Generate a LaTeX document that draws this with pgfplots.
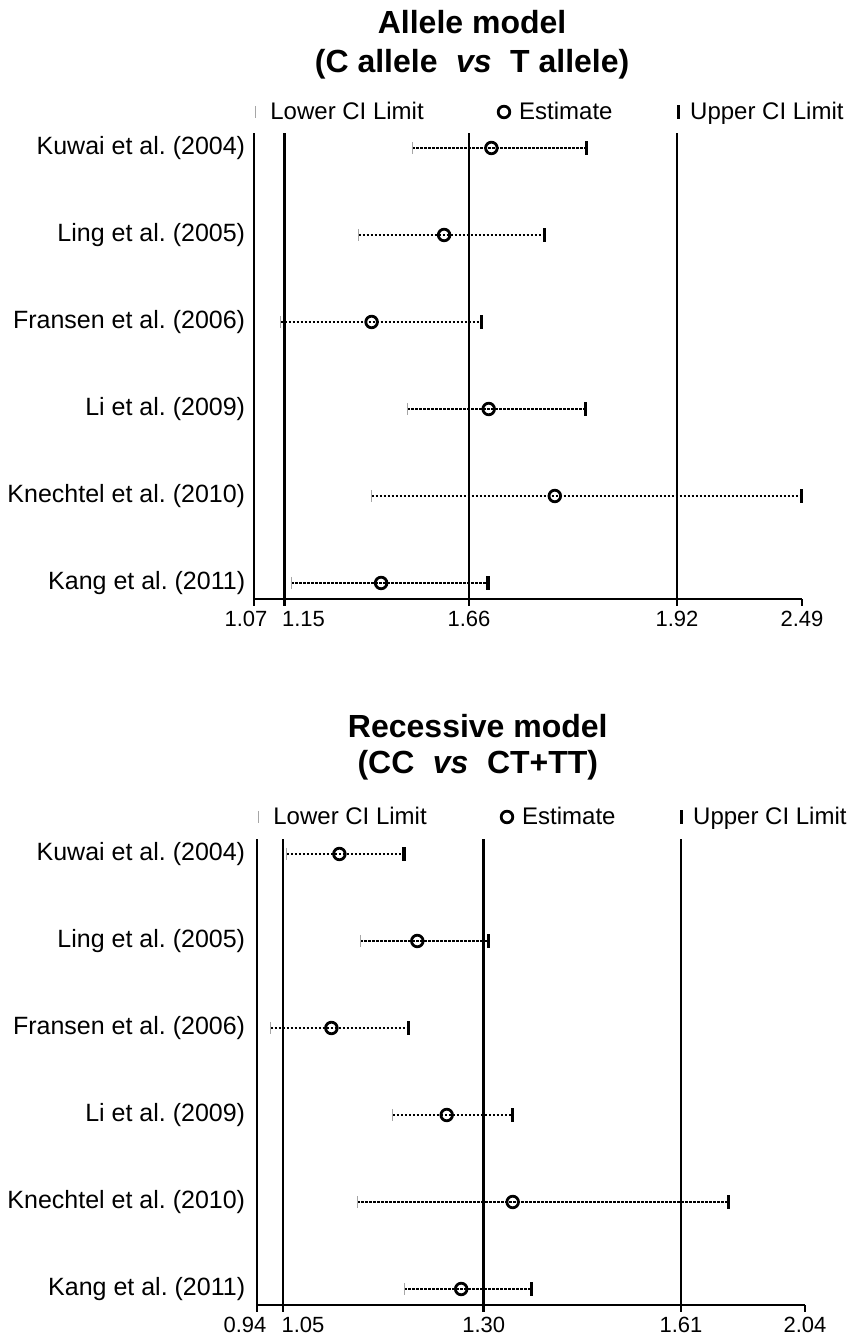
\documentclass[border=0pt]{standalone}
\usepackage{pgfplots}
\pgfplotsset{compat=1.18}
\usepackage{pgfplotstable}
\usepackage{fontspec}
\setmainfont{Liberation Sans}

\pgfplotstableread{
y   lo     est    hi
451 158.4  237.4  332.8
364 104.6  190.1  290.8
277 26.7   117.6  227.1
190 153.4  234.7  331.7
103 117.6  300.8  547.7
16  37.4   127.1  234.0
}\tabA

\pgfplotstableread{
y   lo     est    hi
451 29.8   82.4   146.9
364 103.4  160.3  231.3
277 13.7   74.4   151.1
190 135.9  189.7  255.7
103 100.4  255.7  471.8
16  147.3  204.2  274.8
}\tabB

\pgfplotsset{
  forest/.style={
    scale only axis, width=274pt, height=233pt,
    xmin=0, xmax=548, ymin=0, ymax=466, clip=false,
    axis x line=bottom, axis y line=left,
    axis line style={-, line width=1.3pt, black},
    every outer x axis line/.append style={-},
    every outer y axis line/.append style={-},
    xtick align=outside,
    major tick length=3.5pt,
    xtick style={line width=1.3pt, black},
    ytick style={draw=none},
    ytick={16,103,190,277,364,451},
    yticklabels={Kang et al. (2011), Knechtel et al. (2010), Li et al. (2009), Fransen et al. (2006), Ling et al. (2005), Kuwai et al. (2004)},
    yticklabel style={font=\fontsize{12.5}{14}\selectfont, anchor=east, inner sep=0pt},
    xticklabel style={font=\fontsize{11}{13}\selectfont, anchor=north, inner sep=0pt, yshift=-2.5pt},
    legend columns=3,
    legend cell align=left,
    legend style={draw=none, fill=none, inner sep=0pt, column sep=0pt, font=\fontsize{12}{14}\selectfont, nodes={inner sep=0pt}},
    legend image code/.code={\draw[##1] plot coordinates {(0pt,0pt)};},
  },
  refline/.style={black, line width=1.4pt, forget plot},
  ciline/.style={black, line width=1.1pt, dash pattern=on 1.1pt off 0.9pt, forget plot},
  lowmark/.style={only marks, mark=|, mark size=3pt, gray!70, mark options={line width=0.5pt}},
  estmark/.style={only marks, mark=o, mark size=2.9pt, black, mark options={line width=1.4pt}},
  upmark/.style={only marks, mark=|, mark size=3.4pt, black, mark options={line width=1.6pt}},
}

\begin{document}
\frenchspacing
\begin{tikzpicture}
\path[use as bounding box] (0,0) rectangle (424.5pt,669pt);

% ---------- Allele model ----------
\begin{axis}[forest, at={(127pt,369.5pt)}, anchor=south west,
  xtick={0,30.5,215,423,548},
  xticklabels={{\makebox[0pt]{\hspace{-4pt}1.07\hspace{4pt}}},{\makebox[0pt]{\hspace{9.5pt}1.15\hspace{-9.5pt}}},1.66,1.92,2.49},
  title={Allele model\\(C allele\hspace{0.3em} \textit{vs}\hspace{0.3em} T allele)},
  title style={at={(0.398,1)}, anchor=south, yshift=20.5pt, align=center, font=\bfseries\fontsize{16}{19.5}\selectfont, inner sep=0pt},
  yticklabel style={xshift=-2.5pt},
  legend style={at={(axis cs:1,466)}, anchor=west, yshift=10.5pt},
]
\addplot[refline] coordinates {(30.5,0) (30.5,466)};
\addplot[refline] coordinates {(215,0) (215,466)};
\addplot[refline] coordinates {(423,0) (423,466)};
\addplot[ciline] coordinates {(158.4,451) (332.8,451)};
\addplot[ciline] coordinates {(104.6,364) (290.8,364)};
\addplot[ciline] coordinates {(26.7,277) (227.1,277)};
\addplot[ciline] coordinates {(153.4,190) (331.7,190)};
\addplot[ciline] coordinates {(117.6,103) (547.7,103)};
\addplot[ciline] coordinates {(37.4,16) (234.0,16)};
\addplot[lowmark] table[x=lo, y=y] {\tabA};
\addplot[estmark] table[x=est, y=y] {\tabA};
\addplot[upmark] table[x=hi, y=y] {\tabA};
\addlegendentry{\makebox[121.4pt][l]{\hspace{7.5pt}Lower CI Limit}}
\addlegendentry{\makebox[84.2pt][l]{\hspace{4.7pt}Estimate}}
\addlegendentry{\hspace{6pt}Upper CI Limit}
\end{axis}

% ---------- Recessive model ----------
\begin{axis}[forest, at={(128.5pt,16.5pt)}, anchor=south west,
  xtick={0,26,226.7,424,548},
  xticklabels={{\makebox[0pt]{\hspace{-6pt}0.94\hspace{6pt}}},{\makebox[0pt]{\hspace{10pt}1.05\hspace{-10pt}}},1.30,1.61,2.04},
  title={Recessive model\\(CC\hspace{0.3em} \textit{vs}\hspace{0.3em} CT+TT)},
  title style={at={(0.403,1)}, anchor=south, yshift=23pt, align=center, font=\bfseries\fontsize{16}{18}\selectfont, inner sep=0pt},
  yticklabel style={xshift=-4pt},
  legend style={at={(axis cs:1,466)}, anchor=west, yshift=11pt},
]
\addplot[refline] coordinates {(26,0) (26,466)};
\addplot[refline] coordinates {(226.7,0) (226.7,466)};
\addplot[refline] coordinates {(424,0) (424,466)};
\addplot[ciline] coordinates {(29.8,451) (146.9,451)};
\addplot[ciline] coordinates {(103.4,364) (231.3,364)};
\addplot[ciline] coordinates {(13.7,277) (151.1,277)};
\addplot[ciline] coordinates {(135.9,190) (255.7,190)};
\addplot[ciline] coordinates {(100.4,103) (471.8,103)};
\addplot[ciline] coordinates {(147.3,16) (274.8,16)};
\addplot[lowmark] table[x=lo, y=y] {\tabB};
\addplot[estmark] table[x=est, y=y] {\tabB};
\addplot[upmark] table[x=hi, y=y] {\tabB};
\addlegendentry{\makebox[121.4pt][l]{\hspace{7.5pt}Lower CI Limit}}
\addlegendentry{\makebox[84.2pt][l]{\hspace{4.7pt}Estimate}}
\addlegendentry{\hspace{6pt}Upper CI Limit}
\end{axis}
\end{tikzpicture}
\end{document}
